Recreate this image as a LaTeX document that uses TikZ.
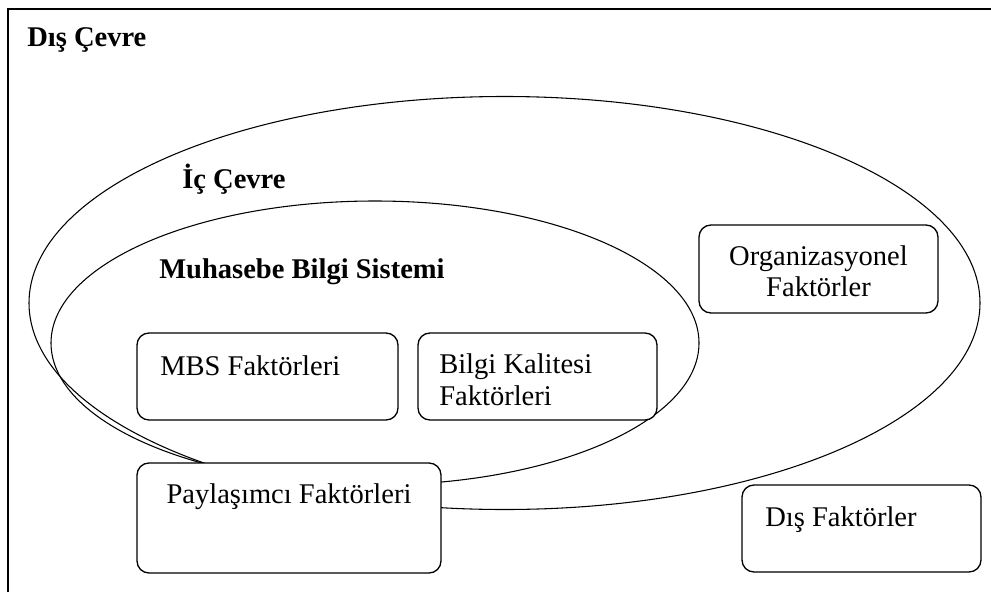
\documentclass[tikz,border=0pt]{standalone}
\usepackage{fontspec}
\setmainfont{Liberation Serif}
\usetikzlibrary{shapes.geometric}
\begin{document}
\begin{tikzpicture}[x=0.75pt,y=-0.75pt,
  ring/.style={draw, ellipse, inner sep=0pt, line width=0.8pt},
  box/.style={draw, rectangle, rounded corners=9pt, fill=white, inner sep=0pt, line width=1pt},
  lbl/.style={font=\fontsize{21.4}{24}\selectfont, inner sep=0pt, anchor=base west},
  ttl/.style={font=\fontsize{21.4}{24}\selectfont\bfseries, inner sep=0pt, anchor=base west}]
\useasboundingbox (0,0) rectangle (991,592);
\coordinate (fb) at (8,592);
\coordinate (ftl) at (8,9);
\coordinate (fr) at (991,9);
\draw[line width=1.1pt] (fb) -- (ftl) -- (fr);
% ellipses
\node[ring, minimum width=713.25pt, minimum height=309.75pt] (ic) at (504.5,303) {};
\node[ring, minimum width=486pt, minimum height=213pt] (mbsring) at (375,343) {};
% boxes
\node[box, minimum width=195.75pt, minimum height=65.25pt] (mbs) at (267.5,376.5) {};
\node[box, minimum width=179.25pt, minimum height=65.25pt] (bilgi) at (537.5,376.5) {};
\node[box, minimum width=179.25pt, minimum height=66pt] (org) at (818.5,269) {};
\node[box, minimum width=228pt, minimum height=82.5pt] (pay) at (289,518) {};
\node[box, minimum width=179.25pt, minimum height=65.25pt] (dis) at (861.5,528.5) {};
% titles
\node[ttl] (tdis) at (27,46) {Dış Çevre};
\node[ttl] (tic) at (182,188) {İç Çevre};
\node[ttl] (tmbs) at (159,278) {Muhasebe Bilgi Sistemi};
% labels
\node[lbl] (lmbs) at (160,375) {MBS Faktörleri};
\node[lbl] (lbilgi1) at (439,373) {Bilgi Kalitesi};
\node[lbl] (lbilgi2) at (439,405) {Faktörleri};
\node[lbl, anchor=base] (lorg1) at (818.5,265) {Organizasyonel};
\node[lbl, anchor=base] (lorg2) at (818.5,296) {Faktörler};
\node[lbl, anchor=base] (lpay) at (289,503) {Paylaşımcı Faktörleri};
\node[lbl] (ldis) at (765,526) {Dış Faktörler};
\end{tikzpicture}
\end{document}
